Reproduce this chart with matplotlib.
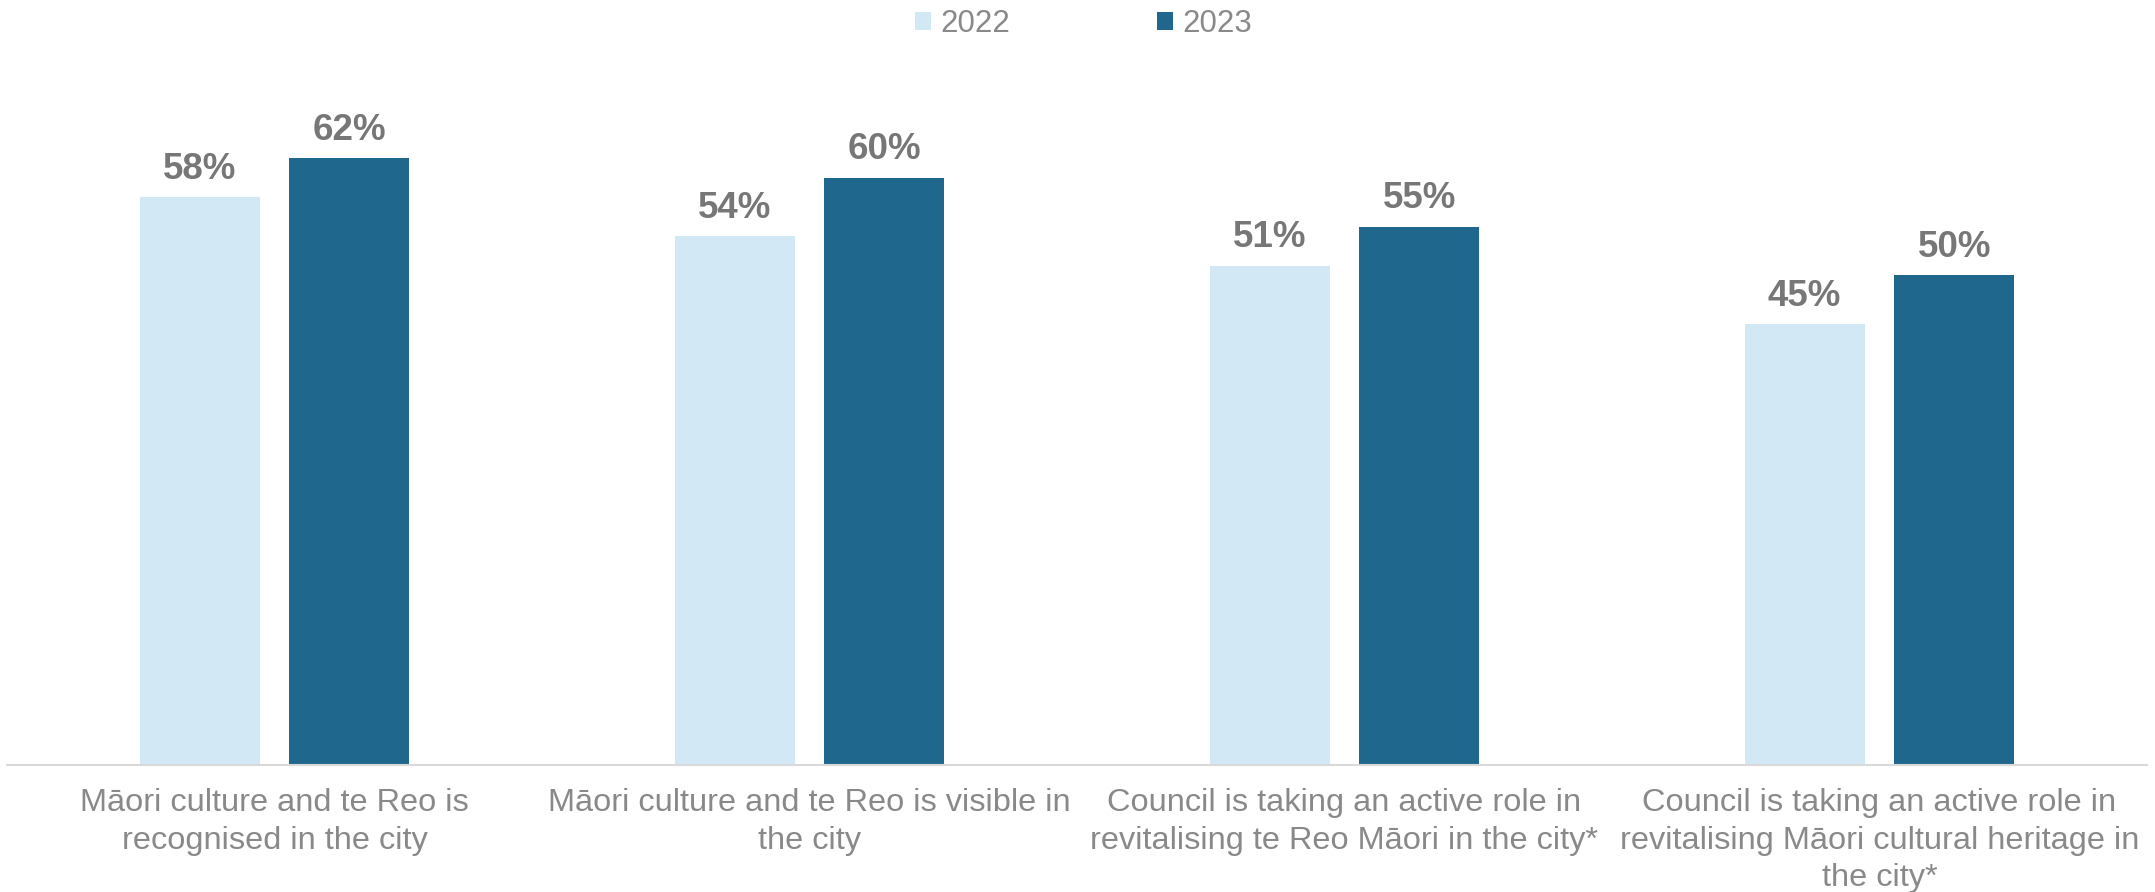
import matplotlib
matplotlib.use("Agg")
import matplotlib.pyplot as plt
import numpy as np
from matplotlib.patches import Patch

categories = [
    "Māori culture and te Reo is\nrecognised in the city",
    "Māori culture and te Reo is visible in\nthe city",
    "Council is taking an active role in\nrevitalising te Reo Māori in the city*",
    "Council is taking an active role in\nrevitalising Māori cultural heritage in\nthe city*",
]
series_names = ["2022", "2023"]
values_2022 = [58, 54, 51, 45]
values_2023 = [62, 60, 55, 50]

plt.rcParams['font.family'] = ['Liberation Sans', 'DejaVu Sans']

W, H = 2155, 892
fig = plt.figure(figsize=(W / 100, H / 100), dpi=100)
ax_bottom_px = 765
ymax = 70
px_per_unit = 9.79
ax_top_px = ax_bottom_px - ymax * px_per_unit
ax = fig.add_axes([7 / W, (H - ax_bottom_px) / H, 2140 / W, (ax_bottom_px - ax_top_px) / H])

c_light = "#D2E8F4"
c_dark = "#1F678D"
label_col = "#777777"
text_col = "#898989"

x = np.arange(len(categories))
bw = 0.224
off = 0.14
b1 = ax.bar(x - off, values_2022, width=bw, color=c_light)
b2 = ax.bar(x + off, values_2023, width=bw, color=c_dark)

for bars, vals in ((b1, values_2022), (b2, values_2023)):
    for rect, v in zip(bars, vals):
        ax.annotate(f"{v}%", (rect.get_x() + rect.get_width() / 2, rect.get_height()),
                    xytext=(0, 7.5), textcoords="offset points", ha="center", va="bottom",
                    fontsize=26.5, fontweight="bold", color=label_col)

ax.set_xlim(-0.5, len(categories) - 0.5)
ax.set_ylim(0, ymax)
ax.set_xticks(x)
ax.set_xticklabels(categories, fontsize=23.4, color=text_col, linespacing=1.33)
ax.tick_params(axis="x", length=0, pad=16.5)
ax.set_yticks([])
for s in ("top", "right", "left"):
    ax.spines[s].set_visible(False)
ax.spines["bottom"].set_color("#D9D9D9")
ax.spines["bottom"].set_linewidth(1.5)

handles = [Patch(facecolor=c_light, edgecolor="none"), Patch(facecolor=c_dark, edgecolor="none")]
leg = fig.legend(handles, series_names, loc="center", bbox_to_anchor=(1083.5 / W, 1 - 24 / H),
                 ncol=2, frameon=False, fontsize=22.5, handlelength=0.52, handleheight=0.52,
                 handletextpad=0.3, columnspacing=4.7, borderpad=0)
for t in leg.get_texts():
    t.set_color(text_col)

fig.savefig("out.png", dpi=100)
